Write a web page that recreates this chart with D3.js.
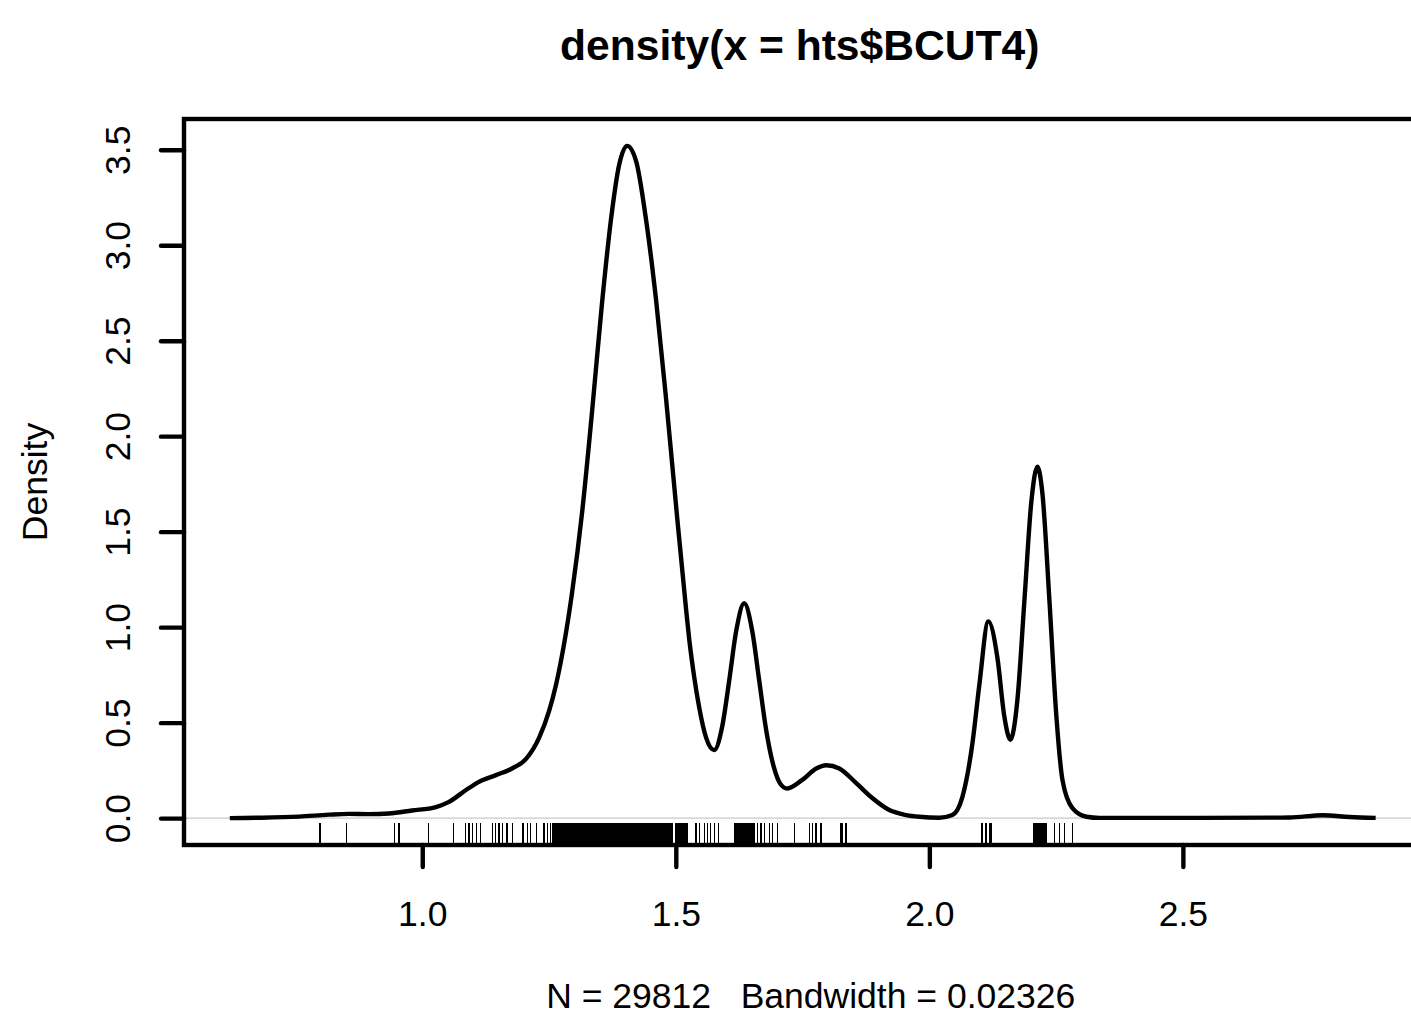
<!DOCTYPE html>
<html><head><meta charset="utf-8">
<script src="https://cdn.jsdelivr.net/npm/d3@7"></script>
<style>
body{margin:0;background:#fff}
svg{display:block}
text{font-family:"Liberation Sans",Arial,Helvetica,sans-serif;fill:#000;white-space:pre}
</style>
</head><body>
<svg id="chart" width="1411" height="1016"></svg>
<script>
// ---- data ----
const titleText = "density(x = hts$BCUT4)";
const xLabelText = "N = 29812   Bandwidth = 0.02326";
const yLabelText = "Density";

const densityX = [0.6205,0.6777,0.7567,0.8159,0.8553,0.8948,0.9343,0.9797,1.0270,1.0527,1.0862,1.1119,1.1455,1.1770,1.2047,1.2303,1.2500,1.2639,1.2954,1.3152,1.3349,1.3546,1.3724,1.3882,1.4040,1.4217,1.4415,1.4612,1.4810,1.5007,1.5204,1.5263,1.5362,1.5461,1.5599,1.5757,1.5915,1.6053,1.6191,1.6349,1.6507,1.6645,1.6783,1.6941,1.7060,1.7198,1.7494,1.7770,1.7967,1.8224,1.8559,1.8875,1.9210,1.9546,1.9803,2.0197,2.0454,2.0651,2.0849,2.0987,2.1164,2.1342,2.1480,2.1599,2.1737,2.1875,2.2013,2.2131,2.2230,2.2368,2.2506,2.2625,2.2822,2.3098,2.3355,2.5329,2.7105,2.7756,2.8289,2.8802];
const densityY = [0.000,0.002,0.008,0.018,0.022,0.021,0.024,0.040,0.058,0.085,0.147,0.190,0.225,0.260,0.310,0.420,0.560,0.700,1.180,1.600,2.130,2.700,3.140,3.420,3.520,3.440,3.130,2.710,2.190,1.630,1.090,0.940,0.740,0.580,0.420,0.356,0.480,0.720,0.980,1.125,0.980,0.720,0.460,0.260,0.180,0.155,0.200,0.260,0.277,0.260,0.183,0.105,0.042,0.016,0.007,0.002,0.016,0.110,0.390,0.700,1.030,0.840,0.530,0.410,0.620,1.140,1.660,1.840,1.700,1.140,0.530,0.200,0.052,0.007,0.001,0.001,0.003,0.015,0.006,0.001];

const rugX = [0.7981,0.8508,0.9455,0.9540,1.0118,1.0612,1.0857,1.0922,1.0987,1.1066,1.1153,1.1381,1.1449,1.1514,1.1579,1.1672,1.1776,1.1987,1.2072,1.2139,1.2258,1.2402,1.2467,1.2534,
1.258,1.260,1.262,1.264,1.266,1.268,1.270,1.272,1.274,1.276,1.278,1.280,1.282,1.284,1.286,1.288,1.290,1.292,1.294,1.296,1.298,1.300,1.302,1.304,1.306,1.308,1.310,1.312,1.314,1.316,1.318,1.320,1.322,1.324,1.326,1.328,1.330,1.332,1.334,1.336,1.338,1.340,1.342,1.344,1.346,1.348,1.350,1.352,1.354,1.356,1.358,1.360,1.362,1.364,1.366,1.368,1.370,1.372,1.374,1.376,1.378,1.380,1.382,1.384,1.386,1.388,1.390,1.392,1.394,1.396,1.398,1.400,1.402,1.404,1.406,1.408,1.410,1.412,1.414,1.416,1.418,1.420,1.422,1.424,1.426,1.428,1.430,1.432,1.434,1.436,1.438,1.440,1.442,1.444,1.446,1.448,1.450,1.452,1.454,1.456,1.458,1.460,1.462,1.464,1.466,1.468,1.470,1.472,1.474,1.476,1.478,1.480,1.482,1.484,1.486,1.488,1.490,1.492,1.494,1.500,1.502,1.504,1.506,1.508,1.512,1.514,1.516,1.518,1.520,1.522,
1.5396,1.5461,1.5560,1.5625,1.5678,1.5757,1.5842,
1.616,1.618,1.620,1.622,1.624,1.626,1.628,1.630,1.632,1.634,1.636,1.638,1.640,1.642,1.644,1.646,1.648,1.650,1.652,1.654,
1.6611,1.6678,1.6743,1.6842,1.6907,1.7006,1.7335,1.7631,1.7696,1.7764,1.7863,1.8257,1.8289,1.8356,
2.1040,2.1119,2.1184,2.1218,
2.206,2.208,2.210,2.212,2.214,2.216,2.218,2.220,2.222,2.224,2.226,2.228,2.230,
2.2468,2.2567,2.2665,2.2828];

const xTicks = [1.0, 1.5, 2.0, 2.5];
const yTicks = [0.0, 0.5, 1.0, 1.5, 2.0, 2.5, 3.0, 3.5];

// ---- layout ----
const W = 1411, H = 1016;
const plot = {left: 184, top: 119, right: 1421.5, bottom: 845};
const fontSize = 35.5;
const lw = 4.4;

// R-style 4% axis extension
const xe = d3.extent(densityX), ye = [0, d3.max(densityY)];
const xPad = (xe[1]-xe[0])*0.04, yPad = (ye[1]-ye[0])*0.04;

const x = d3.scaleLinear().domain([xe[0]-xPad, xe[1]+xPad]).range([plot.left, plot.right]);
const y = d3.scaleLinear().domain([ye[0]-yPad, ye[1]+yPad]).range([plot.bottom, plot.top]);

const svg = d3.select("#chart");
svg.append("rect").attr("width", W).attr("height", H).attr("fill", "#fff");

// zero line
svg.append("line")
  .attr("x1", x.range()[0]).attr("x2", x.range()[1])
  .attr("y1", y(0)).attr("y2", y(0))
  .attr("stroke", "#c8c8c8").attr("stroke-width", 1.3);

// density curve
const pts = densityX.map((d,i)=>[d, densityY[i]]);
svg.append("path")
  .datum(pts)
  .attr("d", d3.line().x(d=>x(d[0])).y(d=>y(d[1])).curve(d3.curveMonotoneX))
  .attr("fill", "none").attr("stroke", "#000").attr("stroke-width", lw)
  .attr("stroke-linejoin", "round").attr("stroke-linecap", "butt");

// rug
const rugLen = (plot.bottom - plot.top) * 0.03;
svg.append("g").attr("shape-rendering", "crispEdges").selectAll("line").data(rugX).join("line")
  .attr("x1", d=>x(d)).attr("x2", d=>x(d))
  .attr("y1", plot.bottom).attr("y2", plot.bottom - rugLen)
  .attr("stroke", "#000").attr("stroke-width", 1.3);

// frame
svg.append("rect")
  .attr("x", plot.left).attr("y", plot.top)
  .attr("width", plot.right - plot.left).attr("height", plot.bottom - plot.top)
  .attr("fill", "none").attr("stroke", "#000").attr("stroke-width", lw);

// x axis
const gx = svg.append("g").attr("transform", `translate(0,${plot.bottom})`)
  .call(d3.axisBottom(x).tickValues(xTicks).tickSize(22).tickFormat(d3.format(".1f")));
gx.attr("font-family", null).attr("font-size", null);
gx.select(".domain").remove();
gx.selectAll(".tick line").attr("stroke", "#000").attr("stroke-width", lw).attr("stroke-linecap","round");
gx.selectAll(".tick text").attr("y", 80.5).attr("dy", 0)
  .attr("font-size", fontSize).attr("fill", "#000");

// y axis
const gy = svg.append("g").attr("transform", `translate(${plot.left},0)`)
  .call(d3.axisLeft(y).tickValues(yTicks).tickSize(23).tickFormat(d3.format(".1f")));
gy.attr("font-family", null).attr("font-size", null);
gy.select(".domain").remove();
gy.selectAll(".tick line").attr("stroke", "#000").attr("stroke-width", lw).attr("stroke-linecap","round");
gy.selectAll(".tick text")
  .attr("x", null).attr("dy", null)
  .attr("transform", "translate(-54,0) rotate(-90)")
  .attr("text-anchor", "middle")
  .attr("font-size", fontSize).attr("fill", "#000");

const cx = (plot.left + plot.right) / 2;
const cy = (plot.top + plot.bottom) / 2;

// title
svg.append("text").attr("x", cx - 3).attr("y", 60)
  .attr("text-anchor", "middle").attr("font-size", fontSize*1.2).attr("font-weight", "bold")
  .text(titleText);

// x label
svg.append("text").attr("x", cx + 8).attr("y", 1008)
  .attr("text-anchor", "middle").attr("font-size", fontSize)
  .attr("xml:space", "preserve")
  .text(xLabelText);

// y label
svg.append("text").attr("transform", `translate(47,${cy}) rotate(-90)`)
  .attr("text-anchor", "middle").attr("font-size", fontSize)
  .text(yLabelText);
</script>
</body></html>
